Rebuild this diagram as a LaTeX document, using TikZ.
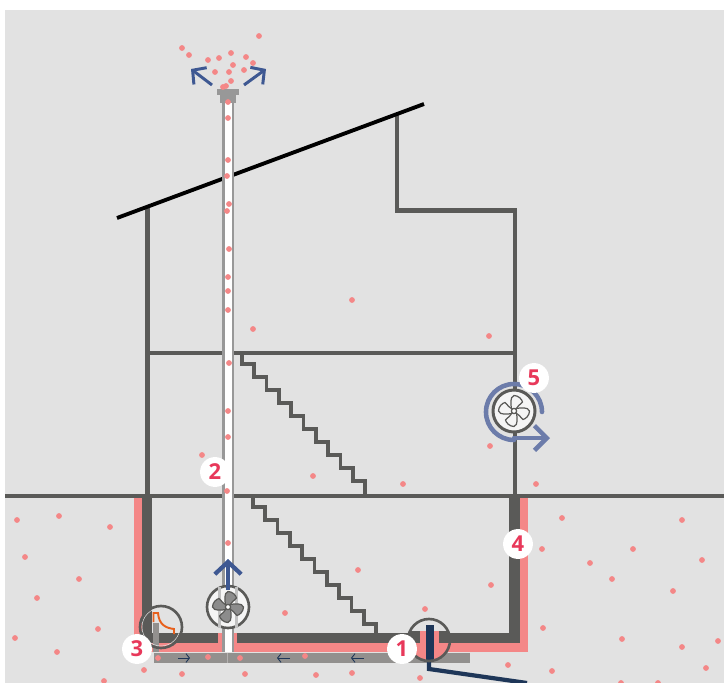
\documentclass[tikz,border=0pt]{standalone}
\usepackage{fontspec}
\setmainfont{Open Sans}
\usetikzlibrary{arrows.meta, positioning}
\definecolor{bggrey}{RGB}{226,226,226}
\definecolor{wallgrey}{RGB}{90,90,88}
\definecolor{gravelgrey}{RGB}{146,144,142}
\definecolor{pipegrey}{RGB}{152,152,152}
\definecolor{radonpink}{RGB}{244,135,135}
\definecolor{flowblue}{RGB}{62,88,146}
\definecolor{fanblue}{RGB}{108,124,170}
\definecolor{navypipe}{RGB}{30,54,88}
\definecolor{sealorange}{RGB}{232,96,28}
\definecolor{badgered}{RGB}{232,56,90}
\tikzset{
  wall/.style={draw=wallgrey, line width=2.3pt},
  roofline/.style={draw=black, line width=2.2pt},
  bigflow/.style={draw=flowblue, line width=2.4pt, -{Straight Barb[length=7pt,width=15pt]}},
  outflow/.style={draw=flowblue, line width=1.7pt, -{Straight Barb[length=5.5pt,width=12pt]}},
  soilflow/.style={draw=navypipe, line width=0.5pt, -{Straight Barb[length=2pt,width=5pt]}},
  lens/.style={draw=wallgrey, line width=1.5pt},
  badge/.style={circle, fill=white, minimum size=17pt, inner sep=0pt, text=badgered, font=\fontsize{12.5}{12.5}\selectfont\bfseries},
  dot/.style={fill=radonpink},
}
\newcommand{\stairflight}[2]{
  \draw[wall, line width=2.1pt] (#1,#2) -- ++(0,11) -- ++(12.3,0)
    \foreach \i in {1,...,9} { -- ++(0,13) -- ++(12.3,0) } -- ++(0,13);
}
\newcommand{\fanwheel}[4]{
  \begin{scope}[shift={(#1,#2)}]
    \foreach \a in {0,90,180,270} {
      \draw[rotate=\a, draw=#4, fill=#3, line width=0.7pt] (-2.5,-2)
        .. controls (-3,-6) and (-4.5,-14) .. (0,-15.5)
        .. controls (4,-15.5) and (8,-12) .. (8.5,-9)
        .. controls (6,-6) and (3,-5) .. (2,-2) -- cycle;
    }
    \fill[white, draw=#4, line width=0.7pt] (0,0) circle[radius=2.6];
  \end{scope}
}
\begin{document}
\begin{tikzpicture}[x=0.02cm, y=-0.02cm]
\useasboundingbox (0,0) rectangle (724,683);
\fill[bggrey] (5,10) rectangle (724,683);

\fill[radonpink] (134,496) rectangle (142,652);
\fill[radonpink] (520,496) rectangle (528,652);
\fill[radonpink] (134,643) rectangle (528,652);
\fill[wallgrey] (142,496) rectangle (152,643);
\fill[wallgrey] (509,496) rectangle (520,643);
\fill[wallgrey] (142,633) rectangle (520,643);
\fill[gravelgrey] (154,652.5) rectangle (470,663);
\fill[radonpink] (218,633) rectangle (237,652);

\draw[wall] (147.5,496) -- (147.5,208);
\draw[wall] (397,115) -- (397,210.5) -- (515,210.5) -- (515,496);
\draw[wall] (147,353) -- (515,353);
\draw[wall] (5,496) -- (724,496);
\stairflight{242}{353}
\stairflight{253}{496}

\draw[roofline] (117,218) -- (424,104);
\fill[pipegrey] (222,95) rectangle (234,652);
\fill[white] (224.5,95) rectangle (232,652);
\fill[pipegrey] (217,89) rectangle (239,95);
\fill[pipegrey] (220,95) rectangle (236,103);
\draw[gravelgrey!70!white, line width=0.3pt] (227.5,653) -- (227.5,663);

\foreach \x/\y in {182/48,189/55,208/60,219/58,231/53,246/57,253/63,259/36,233/65,215/72,229/72,244/70,231/81,226/86,223/87,
    228/102,228/118,228/160,227/176,229/204,227/211,229/249,228/277,228/291,228/310,229/363,228/411,228/437,227/491,228/543,
    352/300,253/329,489/336,202/455,313/476,403/484,490/446,536/484,
    17/520,59/516,110/527,25/557,79/579,37/598,98/629,15/638,57/652,104/681,144/670,182/674,245/674,316/675,352/673,420/678,
    562/518,682/520,542/549,633/549,590/563,612/579,702/560,491/585,358/570,285/613,425/609,543/628,673/591,622/639,682/647,
    706/668,508/665,552/671,621/683,658/683,718/641,158/658,208/657,240/658,305/656}
  \fill[dot] (\x,\y) circle[radius=2.9];

\draw[outflow] (212,85) -- (191,69);
\draw[outflow] (244,85) -- (266,69);
\draw[soilflow] (178,658) -- (190,658);
\draw[soilflow] (290,658) -- (277,658);
\draw[soilflow] (364,658) -- (351,658);

\begin{scope}
  \clip (429,640) circle[radius=21];
  \fill[radonpink] (400,631) rectangle (460,665);
  \fill[wallgrey] (400,631) rectangle (420,643);
  \fill[wallgrey] (439,631) rectangle (460,643);
\end{scope}
\draw[navypipe, line width=2.4pt] (429,660) -- (429,669) -- (527,683);
\fill[navypipe] (426,625) rectangle (434,660);
\draw[lens] (429,640) circle[radius=21];

\draw[lens, fill=white!96!black] (228,607) circle[radius=21];
\fill[pipegrey!60!white] (218,586.5) rectangle (221,627.5);
\fill[pipegrey!60!white] (235,586.5) rectangle (238,627.5);
\fanwheel{228}{607}{gray!90}{wallgrey}
\draw[bigflow] (228,590) -- (228,559);

\fill[gravelgrey] (153,623) rectangle (159,652);
\draw[sealorange, line width=1.1pt] (153.5,622) -- (153.5,613) -- (158,613)
  .. controls (159,625) and (166,628) .. (174,629) -- (174,634);
\draw[bggrey, line width=0.3pt] (161,627) circle[radius=19];
\draw[lens] (161,627) circle[radius=21];

\draw[fanblue, line width=2.6pt, line cap=round] (542,412) arc[start angle=0, end angle=-270, radius=28];
\draw[fanblue, line width=2.6pt, line cap=round, -{Straight Barb[length=7pt,width=14pt]}] (514,438) -- (550,438);
\draw[lens, line width=1.7pt, fill=white!96!black] (514,411) circle[radius=21];
\fanwheel{514}{411}{white!96!black}{wallgrey}

\node[badge] (badge1) at (402,649) {1};
\node[badge] (badge2) at (215,472) {2};
\node[badge] (badge3) at (137,649) {3};
\node[badge] (badge4) at (518,544) {4};
\node[badge] (badge5) at (534,378) {5};
\end{tikzpicture}
\end{document}
